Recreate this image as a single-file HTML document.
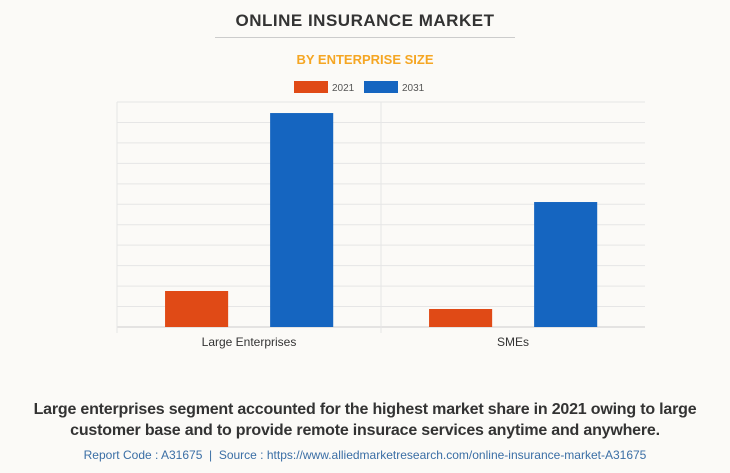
<!DOCTYPE html>
<html><head><meta charset="utf-8"><style>
body{margin:0;width:730px;height:473px;background:#fbfaf7;font-family:"Liberation Sans",sans-serif;overflow:hidden;position:relative}
.t{position:absolute;left:0;width:730px;text-align:center}
</style></head><body>
<div class="t" style="top:11px;font-size:17px;font-weight:bold;color:#333;letter-spacing:0.5px">ONLINE INSURANCE MARKET</div>
<div style="position:absolute;left:215px;top:37px;width:300px;height:1px;background:#ccc"></div>
<div class="t" style="top:52px;font-size:13px;font-weight:bold;color:#f5a623">BY ENTERPRISE SIZE</div>
<svg id="c" width="730" height="380" style="position:absolute;left:0;top:0"></svg>
<div class="t" style="top:399px;font-size:16px;font-weight:bold;color:#333;line-height:21px;letter-spacing:-0.2px">Large enterprises segment accounted for the highest market share in 2021 owing to large<br>customer base and to provide remote insurace services anytime and anywhere.</div>
<div class="t" style="top:448px;font-size:12px;color:#3a6ea5">Report Code : A31675 &nbsp;|&nbsp; Source : https://www.alliedmarketresearch.com/online-insurance-market-A31675</div>
<script>
const categories=["Large Enterprises","SMEs"];
const seriesNames=["2021","2031"];
const values2021=[1.76,0.88];
const values2031=[10.46,6.11];
const yMax=11, gridCount=11;
const colors=["#e04a16","#1565c0"];
const svg=document.getElementById('c');const NS="http://www.w3.org/2000/svg";
const L=117,R=645,T=102,B=327;
const y=v=>B-(v/yMax)*(B-T);
const bandW=(R-L)/categories.length;
function mk(tag,a){const e=document.createElementNS(NS,tag);for(const k in a)e.setAttribute(k,a[k]);svg.appendChild(e);return e;}
for(let i=0;i<=gridCount;i++){const g=mk('line',{x1:L,x2:R,y1:y(i*yMax/gridCount),y2:y(i*yMax/gridCount),stroke:i==0?'#ccc':'#e6e6e6'});

}
for(let i=0;i<categories.length;i++){const v=mk('line',{x1:L+i*bandW,x2:L+i*bandW,y1:T,y2:B+6,stroke:'#e6e6e6'});

}
const series=[values2021,values2031];
categories.forEach((c,i)=>{
  const cx=L+bandW*(i+0.5);
  series.forEach((s,j)=>{
    const x=cx-bandW*0.318+j*bandW*0.398;
    const r=mk('rect',{x:x,y:y(s[i]),width:bandW*0.239,height:B-y(s[i]),fill:colors[j]});
    
    
  });
  const t=mk('text',{x:cx,y:346,'text-anchor':'middle','font-size':12,fill:'#333','font-family':'Liberation Sans'});
  t.textContent=c;
  
  
});
seriesNames.forEach((n,j)=>{
  const x=294+j*70;
  const r=mk('rect',{x:x,y:81,width:34,height:12,fill:colors[j]});
  
  
  const t=mk('text',{x:x+38,y:91,'font-size':10,fill:'#555','font-family':'Liberation Sans'});
  t.textContent=n;
  
  
});
</script>
</body></html>
